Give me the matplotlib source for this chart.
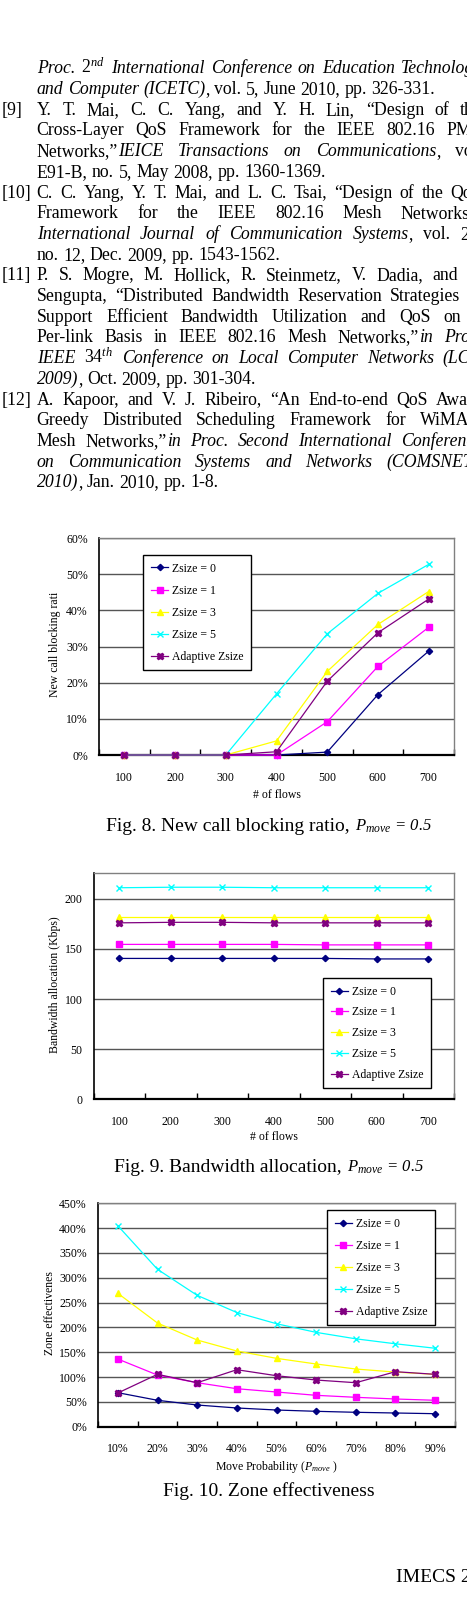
import matplotlib
matplotlib.use('Agg')
import matplotlib.pyplot as plt

plt.rcParams['font.family'] = ['Liberation Serif', 'DejaVu Serif']
plt.rcParams['mathtext.fontset'] = 'custom'
plt.rcParams['mathtext.rm'] = 'Liberation Serif'
plt.rcParams['mathtext.it'] = 'Liberation Serif:italic'
plt.rcParams['mathtext.default'] = 'it'

W, H = 467, 1601

# chart data
series_names = ['Zsize = 0', 'Zsize = 1', 'Zsize = 3', 'Zsize = 5', 'Adaptive Zsize']
flows = ['100', '200', '300', '400', '500', '600', '700']
move_prob = ['10%', '20%', '30%', '40%', '50%', '60%', '70%', '80%', '90%']

# Fig. 8 new call blocking ratio (%)
block_z0 = [0, 0, 0, 0, 0.8, 16.7, 28.7]
block_z1 = [0, 0, 0, 0, 9.2, 24.5, 35.3]
block_z3 = [0, 0, 0, 3.9, 23.1, 36.1, 45.2]
block_z5 = [0, 0, 0, 16.9, 33.5, 44.7, 52.7]
block_adapt = [0, 0, 0, 0.9, 20.4, 33.8, 43.1]

# Fig. 9 bandwidth allocation (Kbps)
bw_z0 = [140.5, 140.5, 140.5, 140.5, 140.5, 140, 140]
bw_z1 = [154.5, 154.5, 154.5, 154.5, 154, 154, 154]
bw_z3 = [182, 182, 182, 182, 182, 182, 182]
bw_z5 = [211, 211.5, 211.5, 211, 211, 211, 211]
bw_adapt = [176, 176.5, 176.5, 176, 176, 176, 176]

# Fig. 10 zone effectiveness (%)
ze_z0 = [68.5, 53.2, 43.7, 37.7, 33.6, 31.0, 29.0, 27.6, 26.2]
ze_z1 = [136.3, 104.0, 88.6, 76.5, 69.9, 63.2, 59.2, 55.8, 53.2]
ze_z3 = [268.7, 208.8, 174.6, 152.5, 137.7, 126.3, 116.2, 110.0, 105.5]
ze_z5 = [404.8, 317.0, 264.6, 230.0, 207.4, 190.0, 177.0, 167.0, 158.0]
ze_adapt = [67.9, 105.5, 88.6, 114.8, 102.7, 94.0, 88.6, 110.8, 105.5]

colors = ['#000080', '#FF00FF', '#FFFF00', '#00FFFF', '#800080']
markers = ['D', 's', '^', 'x', 'X']
msizes = [3.2, 3.8, 4.2, 4.5, 4.5]

# reference list text: (label, [(text, italic), ...], justified)
body_lines = [
    ('', [('Proc. $2^{nd}$ International Conference on Education Technology', True)], True),
    ('', [('and Computer (ICETC)', True), (', vol. 5, June 2010, pp. 326-331.', False)], False),
    ('[9]', [('Y. T. Mai, C. C. Yang, and Y. H. Lin, \u201cDesign of the', False)], True),
    ('', [('Cross-Layer QoS Framework for the IEEE 802.16 PMP', False)], True),
    ('', [('Networks,\u201d ', False), ('IEICE Transactions on Communications', True), (', vol.', False)], True),
    ('', [('E91-B, no. 5, May 2008, pp. 1360-1369.', False)], False),
    ('[10]', [('C. C. Yang, Y. T. Mai, and L. C. Tsai, \u201cDesign of the QoS', False)], True),
    ('', [('Framework for the IEEE 802.16 Mesh Networks,\u201d', False)], True),
    ('', [('International Journal of Communication Systems', True), (', vol. 22,', False)], True),
    ('', [('no. 12, Dec. 2009, pp. 1543-1562.', False)], False),
    ('[11]', [('P. S. Mogre, M. Hollick, R. Steinmetz, V. Dadia, and S.', False)], True),
    ('', [('Sengupta, \u201cDistributed Bandwidth Reservation Strategies to', False)], True),
    ('', [('Support Efficient Bandwidth Utilization and QoS on a', False)], True),
    ('', [('Per-link Basis in IEEE 802.16 Mesh Networks,\u201d ', False), ('in Proc.', True)], True),
    ('', [('IEEE $34^{th}$ Conference on Local Computer Networks (LCN', True)], True),
    ('', [('2009)', True), (', Oct. 2009, pp. 301-304.', False)], False),
    ('[12]', [('A. Kapoor, and V. J. Ribeiro, \u201cAn End-to-end QoS Aware', False)], True),
    ('', [('Greedy Distributed Scheduling Framework for WiMAX', False)], True),
    ('', [('Mesh Networks,\u201d ', False), ('in Proc. Second International Conference', True)], True),
    ('', [('on Communication Systems and Networks (COMSNETS', True)], True),
    ('', [('2010)', True), (', Jan. 2010, pp. 1-8.', False)], False),
]

BODY = 12.8
TEXT_X = 36.7
RIGHT = 482
BASE0 = 73.3
LEAD = 20.7

fig = plt.figure(figsize=(W / 100, H / 100), dpi=100)
bg = fig.add_axes([0, 0, 1, 1])
bg.set_xlim(0, W)
bg.set_ylim(H, 0)
bg.axis('off')


def px_rect(left, top, right, bottom):
    return [left / W, 1 - bottom / H, (right - left) / W, (bottom - top) / H]


# body text: one Text per word so the lines can be justified later
placed = []
for i, (label, segs, just) in enumerate(body_lines):
    y = BASE0 + LEAD * i
    if label:
        bg.text(2, y, label, fontsize=BODY, va='baseline', ha='left')
    words = []
    for k, (seg, it) in enumerate(segs):
        parts = seg.split(' ')
        for j, p in enumerate(parts):
            if p == '':
                continue
            glue = (j == 0 and k > 0 and not seg.startswith(' '))
            t = bg.text(0, y, p, fontsize=BODY, va='baseline', ha='left',
                        style='italic' if it else 'normal')
            words.append((t, glue))
    placed.append((words, just))


def draw_chart(rect, xlabels, series, ymax, ystep, ylabels, anchor, spacing):
    ax = fig.add_axes(rect)
    xs = list(range(len(xlabels)))
    for vals, name, c, m, ms in zip(series, series_names, colors, markers, msizes):
        ax.plot(xs, vals, color=c, marker=m, markersize=ms, lw=0.9, mew=1.0,
                label=name, clip_on=False, zorder=3)
    ax.set_xlim(-0.5, len(xlabels) - 0.5)
    ax.set_ylim(0, ymax)
    ax.set_xticks(xs)
    ax.set_xticklabels(xlabels)
    ax.set_xticks([x + 0.5 for x in range(-1, len(xlabels))], minor=True)
    yt = [ystep * k for k in range(len(ylabels))]
    ax.set_yticks(yt)
    ax.set_yticklabels(ylabels)
    ax.tick_params(axis='x', which='major', length=0, pad=12, labelsize=8.5)
    ax.tick_params(axis='x', which='minor', direction='in', length=4, width=1, color='black')
    ax.tick_params(axis='y', direction='in', length=0, pad=8, labelsize=8.5)
    ax.yaxis.grid(True, color='#555555', lw=1)
    ax.set_axisbelow(True)
    for s in ('top', 'right'):
        ax.spines[s].set_color('#808080')
        ax.spines[s].set_linewidth(1)
    ax.spines['left'].set_linewidth(1.2)
    ax.spines['bottom'].set_linewidth(1.6)
    leg = ax.legend(loc='upper left', bbox_to_anchor=anchor, borderaxespad=0,
                    fontsize=8.5, fancybox=False, framealpha=1, edgecolor='black',
                    handlelength=1.5, handletextpad=0.3, labelspacing=spacing,
                    borderpad=0.65)
    leg.get_frame().set_linewidth(1)
    return ax


pct = lambda n, step: ['%d%%' % (step * k) for k in range(n)]

draw_chart(px_rect(99, 538, 454, 755), flows,
           [block_z0, block_z1, block_z3, block_z5, block_adapt],
           60, 10, pct(7, 10), (0.124, 0.922), 0.85)
draw_chart(px_rect(93.7, 872.7, 454, 1099.3), flows,
           [bw_z0, bw_z1, bw_z3, bw_z5, bw_adapt],
           226, 50, ['0', '50', '100', '150', '200'], (0.636, 0.535), 0.74)
draw_chart(px_rect(98, 1203.3, 455, 1426.7), move_prob,
           [ze_z0, ze_z1, ze_z3, ze_z5, ze_adapt],
           450, 50, pct(10, 50), (0.641, 0.970), 0.85)

# axis titles
bg.text(55, 644.5, 'New call blocking rati', rotation=90, fontsize=8.5, ha='center', va='center')
bg.text(55, 984.5, 'Bandwidth allocation (Kbps)', rotation=90, fontsize=8.5, ha='center', va='center')
bg.text(50, 1313, 'Zone effectivenes', rotation=90, fontsize=8.5, ha='center', va='center')
bg.text(276.5, 795, '# of flows', fontsize=8.5, ha='center', va='center')
bg.text(274, 1137, '# of flows', fontsize=8.5, ha='center', va='center')
bg.text(276.5, 1466.7, 'Move Probability ($P_{move}$ )', fontsize=8.5, ha='center', va='center')

# captions
captions = [
    ('Fig. 8. New call blocking ratio,', '$P_{move}$ = 0.5', 830.7),
    ('Fig. 9. Bandwidth allocation,', '$P_{move}$ = 0.5', 1171.7),
    ('Fig. 10. Zone effectiveness', '', 1496),
]
cap_texts = []
for main, extra, yb in captions:
    t1 = bg.text(0, yb, main, fontsize=14, va='baseline', ha='left')
    t2 = bg.text(0, yb, extra, fontsize=12, style='italic', va='baseline', ha='left') if extra else None
    cap_texts.append((t1, t2))

bg.text(396, 1582, 'IMECS 2011', fontsize=14, va='baseline', ha='left')

# measure and lay out text
fig.canvas.draw()
r = fig.canvas.get_renderer()
space = 0.25 * BODY * 100 / 72
for words, just in placed:
    widths = [t.get_window_extent(r).width for t, g in words]
    ngaps = sum(1 for k, (t, g) in enumerate(words) if k > 0 and not g)
    gap = space
    if just and ngaps:
        gap = max(space, (RIGHT - TEXT_X - sum(widths)) / ngaps)
    x = TEXT_X
    for k, ((t, g), w) in enumerate(zip(words, widths)):
        if k > 0 and not g:
            x += gap
        t.set_x(x)
        x += w

for t1, t2 in cap_texts:
    w1 = t1.get_window_extent(r).width
    w2 = t2.get_window_extent(r).width + 5 if t2 is not None else 0
    x0 = 269 - (w1 + w2) / 2
    t1.set_x(x0)
    if t2 is not None:
        t2.set_x(x0 + w1 + 5)

fig.savefig('out.png', dpi=100)
